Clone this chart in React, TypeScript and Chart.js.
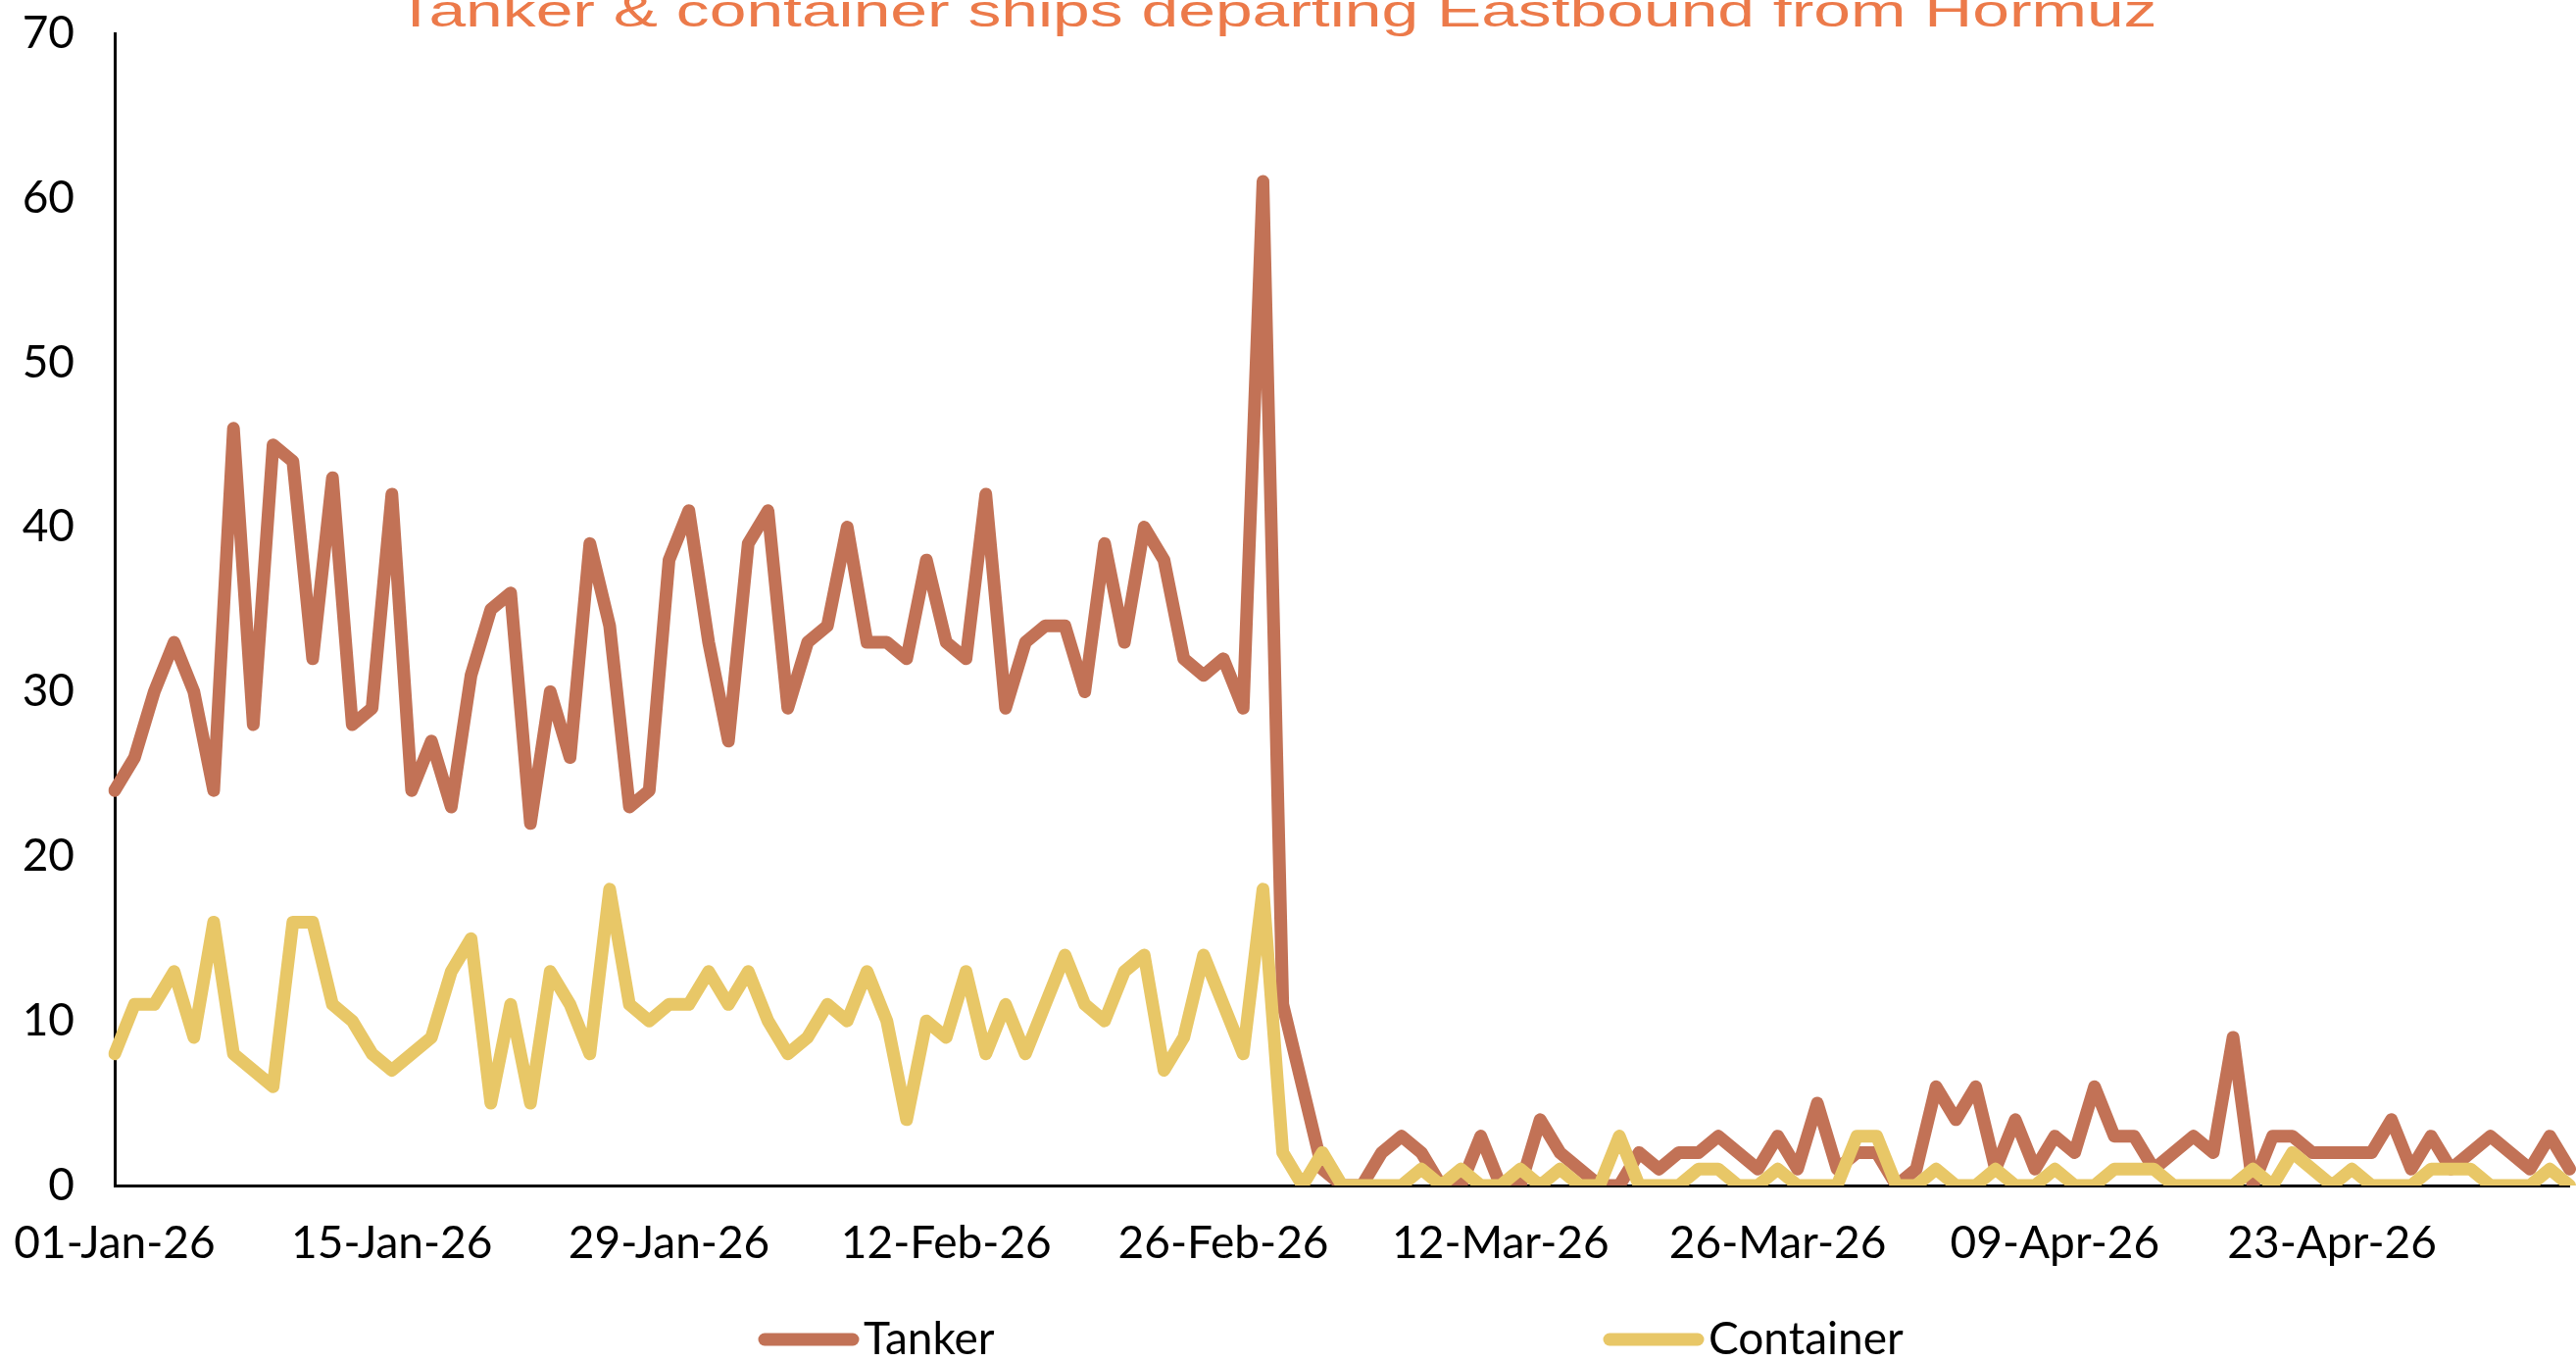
import React, { useEffect, useRef } from 'react';
import { Chart, registerables } from 'chart.js';

Chart.register(...registerables);

const TITLE = 'Tanker & container ships departing Eastbound from Hormuz';
const SERIES_NAMES = ['Tanker', 'Container'];
const MONTHS = ['Jan', 'Feb', 'Mar', 'Apr', 'May', 'Jun', 'Jul', 'Aug', 'Sep', 'Oct', 'Nov', 'Dec'];
const START_DATE = [2026, 0, 1];
const TICK_EVERY = 14;
const Y_MIN = 0;
const Y_MAX = 70;
const Y_STEP = 10;

// Daily ship departures, 01-Jan-26 to 05-May-26
const TANKER = [
  24, 26, 30, 33, 30, 24, 46, 28, 45, 44, 32, 43, 28, 29,
  42, 24, 27, 23, 31, 35, 36, 22, 30, 26, 39, 34, 23, 24,
  38, 41, 33, 27, 39, 41, 29, 33, 34, 40, 33, 33, 32, 38,
  33, 32, 42, 29, 33, 34, 34, 30, 39, 33, 40, 38, 32, 31,
  32, 29, 61, 11, 6, 1, 0, 0, 2, 3, 2, 0, 0, 3,
  0, 0, 4, 2, 1, 0, 0, 2, 1, 2, 2, 3, 2, 1,
  3, 1, 5, 1, 2, 2, 0, 1, 6, 4, 6, 1, 4, 1,
  3, 2, 6, 3, 3, 1, 2, 3, 2, 9, 0, 3, 3, 2,
  2, 2, 2, 4, 1, 3, 1, 2, 3, 2, 1, 3, 1,
];

const CONTAINER = [
  8, 11, 11, 13, 9, 16, 8, 7, 6, 16, 16, 11, 10, 8,
  7, 8, 9, 13, 15, 5, 11, 5, 13, 11, 8, 18, 11, 10,
  11, 11, 13, 11, 13, 10, 8, 9, 11, 10, 13, 10, 4, 10,
  9, 13, 8, 11, 8, 11, 14, 11, 10, 13, 14, 7, 9, 14,
  11, 8, 18, 2, 0, 2, 0, 0, 0, 0, 1, 0, 1, 0,
  0, 1, 0, 1, 0, 0, 3, 0, 0, 0, 1, 1, 0, 0,
  1, 0, 0, 0, 3, 3, 0, 0, 1, 0, 0, 1, 0, 0,
  1, 0, 0, 1, 1, 1, 0, 0, 0, 0, 1, 0, 2, 1,
  0, 1, 0, 0, 0, 1, 1, 1, 0, 0, 0, 1, 0,
];

const COLORS = ['#C27256', '#E8C767'];

function makeDateLabels(count: number): string[] {
  const out: string[] = [];
  for (let i = 0; i < count; i++) {
    const d = new Date(Date.UTC(START_DATE[0], START_DATE[1], START_DATE[2] + i));
    const dd = String(d.getUTCDate()).padStart(2, '0');
    const yy = String(d.getUTCFullYear()).slice(2);
    out.push(`${dd}-${MONTHS[d.getUTCMonth()]}-${yy}`);
  }
  return out;
}

const LABELS = makeDateLabels(TANKER.length);

const W = 2628;
const H = 1389;
const AXIS_FONT = { family: 'Lato, "Liberation Sans", sans-serif', size: 46 };

const titlePlugin = {
  id: 'stretchedTitle',
  afterDraw(chart: any) {
    const ctx = chart.ctx;
    ctx.save();
    ctx.font = '46px "Liberation Sans", Arial, sans-serif';
    const w = ctx.measureText(TITLE).width;
    const sx = 1797 / w;
    ctx.translate(1302, 27);
    ctx.scale(sx, 1);
    ctx.textAlign = 'center';
    ctx.textBaseline = 'alphabetic';
    ctx.fillStyle = '#EC7A4A';
    ctx.fillText(TITLE, 0, 0);
    ctx.restore();
  },
};

const legendPlugin = {
  id: 'wideLegend',
  afterDraw(chart: any) {
    const ctx = chart.ctx;
    const starts = [774, 1636];
    const y = 1366;
    ctx.save();
    chart.data.datasets.forEach((ds: any, i: number) => {
      const x0 = starts[i];
      ctx.strokeStyle = ds.borderColor;
      ctx.lineWidth = 13;
      ctx.lineCap = 'round';
      ctx.beginPath();
      ctx.moveTo(x0 + 6, y);
      ctx.lineTo(x0 + 96, y);
      ctx.stroke();
      ctx.fillStyle = '#000';
      ctx.font = `${AXIS_FONT.size}px ${AXIS_FONT.family}`;
      ctx.textAlign = 'left';
      ctx.textBaseline = 'middle';
      ctx.fillText(ds.label, x0 + 107, y);
    });
    ctx.restore();
  },
};

export default function App() {
  const ref = useRef<HTMLCanvasElement | null>(null);

  useEffect(() => {
    if (!ref.current) return;
    const lineStyle = {
      borderWidth: 13,
      pointRadius: 0,
      tension: 0,
      borderJoinStyle: 'round' as const,
      borderCapStyle: 'round' as const,
    };
    const chart = new Chart(ref.current, {
      type: 'line',
      data: {
        labels: LABELS,
        datasets: [
          {
            label: SERIES_NAMES[0],
            data: TANKER,
            borderColor: COLORS[0],
            backgroundColor: COLORS[0],
            order: 1,
            ...lineStyle,
          },
          {
            label: SERIES_NAMES[1],
            data: CONTAINER,
            borderColor: COLORS[1],
            backgroundColor: COLORS[1],
            order: 0,
            ...lineStyle,
          },
        ],
      },
      options: {
        animation: false,
        responsive: false,
        maintainAspectRatio: false,
        devicePixelRatio: 1,
        layout: { padding: { left: 0, right: 6, top: 34, bottom: 89 } },
        plugins: {
          legend: { display: false },
          title: { display: false },
          tooltip: { enabled: false },
        },
        scales: {
          x: {
            type: 'category',
            offset: false,
            grid: { display: false, drawTicks: false },
            border: { display: true, color: '#000', width: 3 },
            ticks: {
              autoSkip: false,
              maxRotation: 0,
              minRotation: 0,
              padding: 32,
              color: '#000',
              font: AXIS_FONT,
              callback: (_v: any, i: number) => (i % TICK_EVERY === 0 ? LABELS[i] : ''),
            },
            afterFit: (s: any) => {
              s.height = 91;
              s.paddingLeft = 0;
              s.paddingRight = 0;
            },
          },
          y: {
            min: Y_MIN,
            max: Y_MAX,
            grid: { display: false, drawTicks: false },
            border: { display: true, color: '#000', width: 3 },
            ticks: {
              stepSize: Y_STEP,
              padding: 41,
              color: '#000',
              font: AXIS_FONT,
            },
            afterFit: (s: any) => {
              s.width = 117;
              s.paddingTop = 0;
              s.paddingBottom = 0;
            },
          },
        },
      },
      plugins: [titlePlugin, legendPlugin],
    });
    let alive = true;
    if ((document as any).fonts && (document as any).fonts.ready) {
      (document as any).fonts.ready.then(() => {
        if (alive) chart.update();
      });
    }
    return () => {
      alive = false;
      chart.destroy();
    };
  }, []);

  return (
    <div style={{ position: 'absolute', left: 0, top: 0, width: W, height: H, background: '#fff' }}>
      <canvas ref={ref} width={W} height={H} style={{ display: 'block', width: W, height: H }} />
    </div>
  );
}
